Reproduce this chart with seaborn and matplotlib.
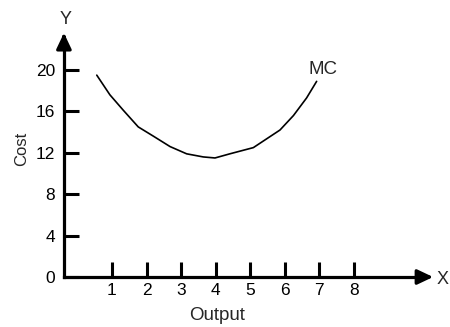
#!/usr/bin/env python3
"""Marginal cost curve (U-shaped MC) redrawn with seaborn."""

import pandas as pd
import matplotlib
matplotlib.use("Agg")
import matplotlib.pyplot as plt
import seaborn as sns

# ================================================================
# Data
# ================================================================
output_qty = [0.56, 0.94, 1.33, 1.76, 2.20, 2.68, 3.16, 3.64, 3.98,
              4.41, 5.09, 5.86, 6.25, 6.63, 6.92]
marginal_cost = [19.5, 17.6, 16.1, 14.5, 13.6, 12.6, 11.9, 11.6, 11.5,
                 11.9, 12.5, 14.2, 15.6, 17.3, 18.9]
x_ticks = [1, 2, 3, 4, 5, 6, 7, 8]
y_ticks = [0, 4, 8, 12, 16, 20]
curve_label = "MC"


def main():
    sns.set_theme(style="white")
    plt.rcParams["font.family"] = ["Liberation Sans", "DejaVu Sans"]

    W, H = 450, 327
    fig = plt.figure(figsize=(W / 100, H / 100), dpi=100)
    ax = fig.add_axes([0, 0, 1, 1])
    ax.patch.set_visible(False)

    df = pd.DataFrame({"output": output_qty, "cost": marginal_cost})
    sns.lineplot(data=df, x="output", y="cost", sort=False, estimator=None,
                 color="black", lw=1.2, ax=ax)

    # axes span the whole figure; limits chosen so the origin sits where it does
    ax.set_xlim(-2.239, 10.778)
    ax.set_ylim(-4.83, 26.76)
    x0 = -0.39
    for side in ("top", "right"):
        ax.spines[side].set_visible(False)
    ax.spines["left"].set_position(("data", x0))
    ax.spines["bottom"].set_position(("data", 0))
    ax.spines["left"].set_bounds(0, 23.0)
    ax.spines["bottom"].set_bounds(x0, 10.0)
    for side in ("left", "bottom"):
        ax.spines[side].set_linewidth(2.3)
        ax.spines[side].set_color("black")

    ax.set_xticks(x_ticks)
    ax.set_yticks(y_ticks)
    ax.tick_params(direction="in", length=11, width=2.2, labelsize=12.5,
                   colors="black", bottom=True, left=True)
    ax.tick_params(axis="x", pad=4.5)
    ax.tick_params(axis="y", pad=6.5)
    ax.set_xlabel("")
    ax.set_ylabel("")

    # arrow heads on both axes
    head = dict(arrowstyle="-|>,head_length=0.95,head_width=0.45",
                mutation_scale=10, color="black", lw=2.3,
                shrinkA=0, shrinkB=0)
    ax.annotate("", xy=(10.29, 0), xytext=(9.9, 0), arrowprops=head)
    ax.annotate("", xy=(x0, 23.57), xytext=(x0, 23.0), arrowprops=head)

    # labels
    fig.text(217 / W, 1 - 316 / H, "Output", ha="center", va="center", fontsize=13.5)
    fig.text(22 / W, 1 - 148.5 / H, "Cost", rotation=90, ha="center",
             va="center", fontsize=12)
    fig.text(65.5 / W, 1 - 20 / H, "Y", ha="center", va="center", fontsize=13)
    fig.text(437 / W, 1 - 279 / H, "X", ha="left", va="center", fontsize=13)
    fig.text(322.5 / W, 1 - 70 / H, curve_label, ha="center", va="center",
             fontsize=13.5)

    fig.savefig("out.png", dpi=100)
    plt.close(fig)


if __name__ == "__main__":
    main()
